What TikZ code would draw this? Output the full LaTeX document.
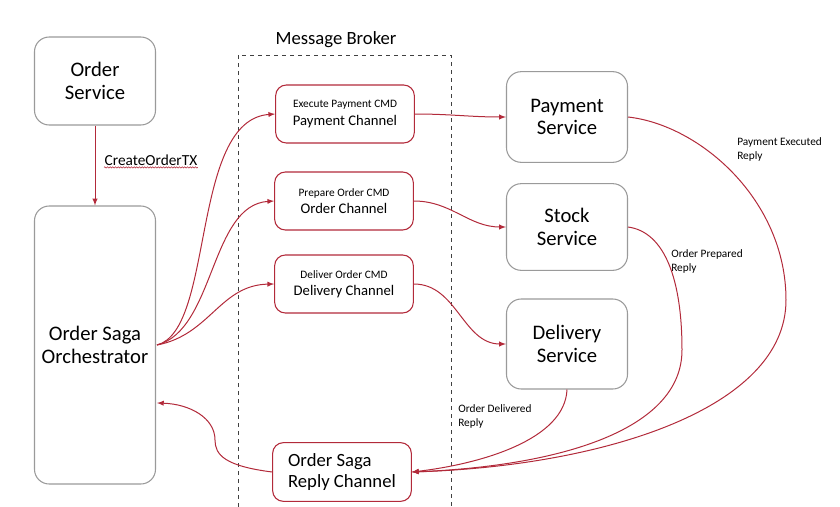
\documentclass[tikz,border=0pt]{standalone}
\usepackage{fontspec}
\setmainfont{Carlito}
\usetikzlibrary{arrows}
\usetikzlibrary{shapes}
\usetikzlibrary{decorations.pathmorphing}
\usepackage{xcolor}
\definecolor{msgred}{HTML}{B22A3A}
\definecolor{boxgray}{HTML}{9A9A9A}

\begin{document}
\begin{tikzpicture}[x=0.75pt,y=-0.75pt]
                \tikzstyle{svc}=[draw=boxgray,line width=0.8pt,rounded corners=11pt,align=center,font=\fontsize{15.5}{17}\selectfont,minimum width=90.75pt]
                \tikzstyle{chan}=[draw=msgred,line width=0.8pt,rounded corners=8pt,align=center,minimum width=104pt,minimum height=43.5pt]
                \tikzstyle{flow}=[draw=msgred,line width=0.75pt,-latex]
                \tikzstyle{lbl}=[align=left,anchor=north west,inner sep=0pt,font=\fontsize{8.5}{10.5}\selectfont]
                \useasboundingbox (0,0) rectangle (840,507);

                % services
                \node[svc,minimum height=66pt] (order) at (95,81) {Order\\Service};
                \node[svc,minimum height=208.5pt] (saga) at (95,345) {Order Saga\\Orchestrator};
                \node[svc,minimum height=68pt] (payment) at (567,117) {Payment\\Service};
                \node[svc,minimum height=65pt] (stock) at (567,227) {Stock\\Service};
                \node[svc,minimum height=67.5pt] (delivery) at (567,344) {Delivery\\Service};

                % broker
                \draw[dashed,line width=0.7pt,black!75] (238,507) -- (238,55) -- (451,55) -- (451,507);
                \node[font=\fontsize{14}{16}\selectfont] (broker) at (336,40) {Message Broker};

                \node[chan] (paych) at (345,114) {{\fontsize{8.5}{10}\selectfont Execute Payment CMD}\\[1pt]{\fontsize{11}{13}\selectfont Payment Channel}};
                \node[chan] (ordch) at (344,201) {{\fontsize{8.5}{10}\selectfont Prepare Order CMD}\\[1pt]{\fontsize{11}{13}\selectfont Order Channel}};
                \node[chan] (delch) at (344,284) {{\fontsize{8.5}{10}\selectfont Deliver Order CMD}\\[1pt]{\fontsize{11}{13}\selectfont Delivery Channel}};
                \node[chan,align=left,minimum height=44pt,font=\fontsize{14}{16}\selectfont] (reply) at (342,472) {Order Saga\\Reply Channel};

                % create order
                \draw[flow] (order) -- (saga);
                \node[anchor=west,font=\fontsize{11.5}{13}\selectfont] (create) at (100,160) {CreateOrderTX};
                \draw[msgred,line width=0.4pt,decorate,decoration={snake,amplitude=0.5pt,segment length=2pt}] ([xshift=3pt,yshift=2pt]create.south west) -- ([xshift=-3pt,yshift=2pt]create.south east);

                % commands
                \draw[flow] (157,345) .. controls (215,330) and (190,120) .. (paych.west);
                \draw[flow] (157,345) .. controls (215,330) and (210,205) .. (ordch.west);
                \draw[flow] (157,345) .. controls (210,335) and (220,285) .. (delch.west);
                \draw[flow] (paych.east) to[out=0,in=180] (payment.west);
                \draw[flow] (ordch.east) to[out=0,in=180] (stock.west);
                \draw[flow] (delch.east) to[out=0,in=180] (delivery.west);

                % replies
                \draw[flow] (payment.east) .. controls (700,125) and (786,200) .. (786,300) .. controls (786,410) and (600,466) .. (reply.east);
                \draw[flow] (stock.east) .. controls (665,232) and (682,280) .. (682,350) .. controls (682,430) and (560,466) .. (reply.east);
                \draw[flow] (delivery.south) .. controls (565,440) and (480,464) .. (reply.east);
                \draw[flow] (reply.west) .. controls (225,466) and (215,455) .. (215,440) .. controls (215,418) and (190,404) .. (157,403);

                \node[lbl] (lpay) at (737,137) {Payment Executed\\Reply};
                \node[lbl] (lord) at (671,249) {Order Prepared\\Reply};
                \node[lbl] (ldel) at (458,404) {Order Delivered\\Reply};
            \end{tikzpicture}
\end{document}
